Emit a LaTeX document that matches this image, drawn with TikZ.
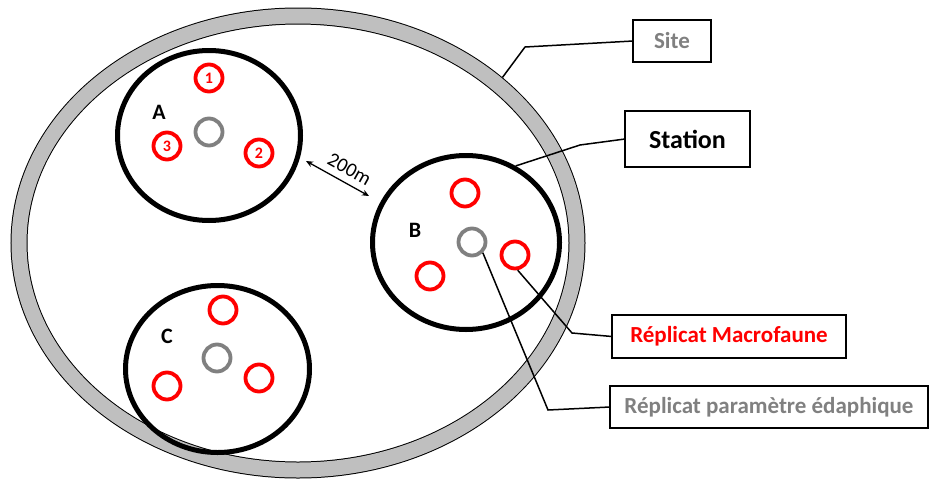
\documentclass[tikz,border=0pt]{standalone}
\usepackage{fontspec}
\setmainfont{Carlito}
\usetikzlibrary{shapes.geometric,arrows.meta}
\definecolor{bandgray}{HTML}{BFBFBF}
\definecolor{midgray}{HTML}{808080}
\definecolor{myred}{HTML}{FF0000}
\begin{document}
\begin{tikzpicture}[x=1pt,y=-1pt,
 station/.style={ellipse, draw=black, line width=5pt, inner sep=0pt, outer sep=2.5pt},
 rep/.style={circle, draw=myred, line width=3.8pt, minimum size=27pt, inner sep=0pt, outer sep=1.9pt, font=\bfseries\fontsize{16}{16}\selectfont, text=myred},
 soil/.style={circle, draw=midgray, line width=3.8pt, minimum size=27pt, inner sep=0pt, outer sep=1.9pt},
 lbl/.style={rectangle, draw=black, line width=1.6pt, inner sep=0pt, outer sep=0pt, font=\bfseries\fontsize{23}{26}\selectfont},
 letter/.style={font=\bfseries\fontsize{22}{22}\selectfont, inner sep=0pt},
 leader/.style={draw=black, line width=1.5pt},
]
\useasboundingbox (0,0) rectangle (933,479);
% site band
\node[ellipse, draw=black, line width=1pt, double=bandgray, double distance=15pt,
      minimum width=558pt, minimum height=454pt, inner sep=0pt, outer sep=8.5pt] (site) at (298,243) {};
% stations
\node[station, minimum width=183pt, minimum height=170pt] (A) at (209,135.5) {};
\node[station, minimum width=187pt, minimum height=174pt] (B) at (466,242.5) {};
\node[station, minimum width=184pt, minimum height=167pt] (C) at (217.5,369) {};
% letters
\node[letter] (lA) at (159,112) {A};
\node[letter] (lB) at (415,230) {B};
\node[letter] (lC) at (167,336) {C};
% replicates A
\node[rep] (a1) at (209,78) {1};
\node[rep] (a2) at (259,153) {2};
\node[rep] (a3) at (167,146) {3};
\node[soil] (ga) at (209,132) {};
% replicates B
\node[rep] (b1) at (465,193) {};
\node[rep] (b2) at (515,255) {};
\node[rep] (b3) at (430,276) {};
\node[soil] (gb) at (472,242) {};
% replicates C
\node[rep] (c1) at (223,310) {};
\node[rep] (c2) at (259,378) {};
\node[rep] (c3) at (167,386) {};
\node[soil] (gc) at (217,358) {};
% distance arrow
\coordinate (d1) at (306,161);
\coordinate (d2) at (369,196);
\draw[{Stealth[length=7pt,width=6pt]}-{Stealth[length=7pt,width=6pt]}, line width=1.3pt] (d1) -- node[sloped, above=5pt, pos=0.58, inner sep=2pt, font=\fontsize{20}{20}\selectfont] {200m} (d2);
% label boxes
\node[lbl, minimum width=78pt, minimum height=42pt, text=midgray] (siteBox) at (672,41) {Site};
\node[lbl, minimum width=125pt, minimum height=56pt, font=\bfseries\fontsize{26}{28}\selectfont] (stationBox) at (687.5,139) {Station};
\node[lbl, minimum width=234pt, minimum height=43pt, text=myred] (macroBox) at (729,336.5) {Réplicat Macrofaune};
\node[lbl, minimum width=318pt, minimum height=42pt, text=midgray] (edaBox) at (769,407) {Réplicat paramètre édaphique};
% leaders
\coordinate (sk) at (525,47);
\draw[leader] (siteBox.west) -- (sk) -- (site.39);
\coordinate (stk) at (580,145);
\draw[leader] (stationBox.west) -- (stk) -- (B.57);
\coordinate (mk) at (572,333);
\draw[leader] (macroBox.west) -- (mk) -- (b2.-80);
\coordinate (ek) at (548,410);
\draw[leader] (edaBox.west) -- (ek) -- (gb.-45);
\end{tikzpicture}
\end{document}
